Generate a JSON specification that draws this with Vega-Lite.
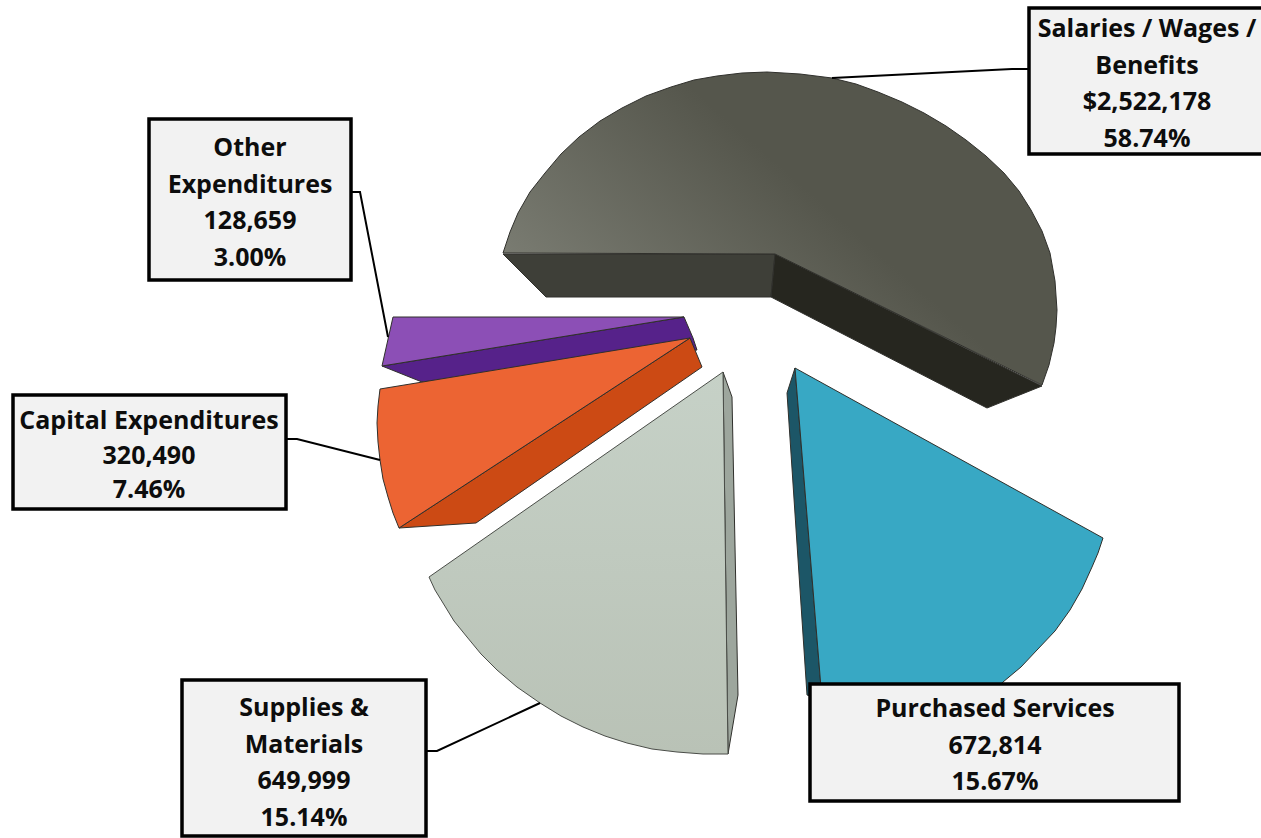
{
  "$schema": "https://vega.github.io/schema/vega-lite/v6.json",
  "width": 1261,
  "height": 838,
  "padding": 0,
  "autosize": {"type": "fit", "contains": "padding"},
  "background": "white",
  "config": {"view": {"stroke": null}},
  "datasets": {
    "faces": [
      {"part":"Other side","i":0,"x":382,"y":366},{"part":"Other side","i":1,"x":684,"y":317},{"part":"Other side","i":2,"x":693,"y":338},{"part":"Other side","i":3,"x":697,"y":350},{"part":"Other side","i":4,"x":422,"y":382},{"part":"Other side","i":5,"x":382,"y":366},
      {"part":"Other top","i":0,"x":393,"y":317},{"part":"Other top","i":1,"x":684,"y":317},{"part":"Other top","i":2,"x":382,"y":366},{"part":"Other top","i":3,"x":393,"y":317},
      {"part":"Capital side","i":0,"x":690,"y":338},{"part":"Capital side","i":1,"x":702,"y":367},{"part":"Capital side","i":2,"x":476,"y":523},{"part":"Capital side","i":3,"x":399,"y":528},{"part":"Capital side","i":4,"x":690,"y":338},
      {"part":"Capital top","i":0,"x":690,"y":338},{"part":"Capital top","i":1,"x":380,"y":389},{"part":"Capital top","i":2,"x":378,"y":406},{"part":"Capital top","i":3,"x":377,"y":423},{"part":"Capital top","i":4,"x":378,"y":442},{"part":"Capital top","i":5,"x":380,"y":460},{"part":"Capital top","i":6,"x":383,"y":479},{"part":"Capital top","i":7,"x":388,"y":497},{"part":"Capital top","i":8,"x":393,"y":513},{"part":"Capital top","i":9,"x":399,"y":528},{"part":"Capital top","i":10,"x":690,"y":338},
      {"part":"Salaries inner","i":0,"x":503,"y":254},{"part":"Salaries inner","i":1,"x":775,"y":254},{"part":"Salaries inner","i":2,"x":771,"y":297},{"part":"Salaries inner","i":3,"x":546,"y":297},{"part":"Salaries inner","i":4,"x":503,"y":254},
      {"part":"Salaries side","i":0,"x":775,"y":254},{"part":"Salaries side","i":1,"x":771,"y":297},{"part":"Salaries side","i":2,"x":987,"y":408},{"part":"Salaries side","i":3,"x":1042,"y":386},{"part":"Salaries side","i":4,"x":775,"y":254},
      {"part":"Salaries top","i":0,"x":503,"y":253},{"part":"Salaries top","i":1,"x":510,"y":232},{"part":"Salaries top","i":2,"x":518,"y":213},{"part":"Salaries top","i":3,"x":530,"y":192},{"part":"Salaries top","i":4,"x":545,"y":173},{"part":"Salaries top","i":5,"x":561,"y":154},{"part":"Salaries top","i":6,"x":579,"y":137},{"part":"Salaries top","i":7,"x":600,"y":121},{"part":"Salaries top","i":8,"x":622,"y":108},{"part":"Salaries top","i":9,"x":646,"y":96},{"part":"Salaries top","i":10,"x":671,"y":87},{"part":"Salaries top","i":11,"x":694,"y":80},{"part":"Salaries top","i":12,"x":717,"y":76},{"part":"Salaries top","i":13,"x":742,"y":73},{"part":"Salaries top","i":14,"x":767,"y":72},{"part":"Salaries top","i":15,"x":800,"y":74},{"part":"Salaries top","i":16,"x":832,"y":78},{"part":"Salaries top","i":17,"x":856,"y":84},{"part":"Salaries top","i":18,"x":878,"y":92},{"part":"Salaries top","i":19,"x":902,"y":102},{"part":"Salaries top","i":20,"x":924,"y":113},{"part":"Salaries top","i":21,"x":946,"y":126},{"part":"Salaries top","i":22,"x":966,"y":140},{"part":"Salaries top","i":23,"x":986,"y":156},{"part":"Salaries top","i":24,"x":1004,"y":173},{"part":"Salaries top","i":25,"x":1019,"y":191},{"part":"Salaries top","i":26,"x":1031,"y":210},{"part":"Salaries top","i":27,"x":1042,"y":231},{"part":"Salaries top","i":28,"x":1050,"y":253},{"part":"Salaries top","i":29,"x":1055,"y":281},{"part":"Salaries top","i":30,"x":1057,"y":310},{"part":"Salaries top","i":31,"x":1056,"y":327},{"part":"Salaries top","i":32,"x":1054,"y":343},{"part":"Salaries top","i":33,"x":1049,"y":365},{"part":"Salaries top","i":34,"x":1042,"y":385},{"part":"Salaries top","i":35,"x":775,"y":254},{"part":"Salaries top","i":36,"x":503,"y":253},
      {"part":"Purchased side","i":0,"x":795,"y":368},{"part":"Purchased side","i":1,"x":787,"y":393},{"part":"Purchased side","i":2,"x":807,"y":695},{"part":"Purchased side","i":3,"x":822,"y":700},{"part":"Purchased side","i":4,"x":795,"y":368},
      {"part":"Purchased top","i":0,"x":795,"y":368},{"part":"Purchased top","i":1,"x":1103,"y":538},{"part":"Purchased top","i":2,"x":1098,"y":553},{"part":"Purchased top","i":3,"x":1092,"y":567},{"part":"Purchased top","i":4,"x":1082,"y":589},{"part":"Purchased top","i":5,"x":1070,"y":610},{"part":"Purchased top","i":6,"x":1055,"y":631},{"part":"Purchased top","i":7,"x":1037,"y":650},{"part":"Purchased top","i":8,"x":1021,"y":667},{"part":"Purchased top","i":9,"x":1003,"y":682},{"part":"Purchased top","i":10,"x":985,"y":700},{"part":"Purchased top","i":11,"x":822,"y":700},{"part":"Purchased top","i":12,"x":795,"y":368},
      {"part":"Supplies side","i":0,"x":723,"y":372},{"part":"Supplies side","i":1,"x":732,"y":397},{"part":"Supplies side","i":2,"x":738,"y":695},{"part":"Supplies side","i":3,"x":728,"y":754},{"part":"Supplies side","i":4,"x":723,"y":372},
      {"part":"Supplies top","i":0,"x":723,"y":372},{"part":"Supplies top","i":1,"x":429,"y":577},{"part":"Supplies top","i":2,"x":435,"y":590},{"part":"Supplies top","i":3,"x":443,"y":603},{"part":"Supplies top","i":4,"x":454,"y":621},{"part":"Supplies top","i":5,"x":467,"y":637},{"part":"Supplies top","i":6,"x":481,"y":654},{"part":"Supplies top","i":7,"x":497,"y":670},{"part":"Supplies top","i":8,"x":517,"y":687},{"part":"Supplies top","i":9,"x":540,"y":703},{"part":"Supplies top","i":10,"x":561,"y":716},{"part":"Supplies top","i":11,"x":583,"y":727},{"part":"Supplies top","i":12,"x":605,"y":736},{"part":"Supplies top","i":13,"x":627,"y":743},{"part":"Supplies top","i":14,"x":652,"y":749},{"part":"Supplies top","i":15,"x":677,"y":752},{"part":"Supplies top","i":16,"x":703,"y":754},{"part":"Supplies top","i":17,"x":728,"y":754},{"part":"Supplies top","i":18,"x":723,"y":372}
    ],
    "leaders": [
      {"category":"Salaries","i":0,"x":832,"y":78},{"category":"Salaries","i":1,"x":1012,"y":69},{"category":"Salaries","i":2,"x":1028,"y":69},
      {"category":"Other","i":0,"x":351,"y":192},{"category":"Other","i":1,"x":360,"y":192},{"category":"Other","i":2,"x":388,"y":337},
      {"category":"Capital","i":0,"x":286,"y":439},{"category":"Capital","i":1,"x":297,"y":439},{"category":"Capital","i":2,"x":380,"y":460},
      {"category":"Supplies","i":0,"x":426,"y":751},{"category":"Supplies","i":1,"x":437,"y":751},{"category":"Supplies","i":2,"x":540,"y":703}
    ],
    "labels": [
      {"category":"Salaries / Wages / Benefits","amount":2522178,"share":58.74,"text":"Salaries / Wages /|Benefits|$2,522,178|58.74%","left":1029,"right":1280,"top":8,"bottom":154,"cx":1147,"cy":29},
      {"category":"Other Expenditures","amount":128659,"share":3.00,"text":"Other|Expenditures|128,659|3.00%","left":149,"right":351,"top":119,"bottom":280,"cx":250,"cy":148},
      {"category":"Capital Expenditures","amount":320490,"share":7.46,"text":"Capital Expenditures|320,490|7.46%","left":13,"right":286,"top":395,"bottom":509,"cx":149,"cy":421},
      {"category":"Supplies & Materials","amount":649999,"share":15.14,"text":"Supplies &|Materials|649,999|15.14%","left":182,"right":426,"top":680,"bottom":836,"cx":304,"cy":708},
      {"category":"Purchased Services","amount":672814,"share":15.67,"text":"Purchased Services|672,814|15.67%","left":810,"right":1179,"top":684,"bottom":801,"cx":995,"cy":709}
    ]
  },
  "encoding": {
    "x": {"field": "x", "type": "quantitative", "scale": {"domain": [0, 1261], "nice": false}, "axis": null},
    "y": {"field": "y", "type": "quantitative", "scale": {"domain": [838, 0], "nice": false}, "axis": null}
  },
  "layer": [
    {
      "data": {"name": "faces"},
      "transform": [{"filter": "datum.part !== 'Salaries top' && datum.part !== 'Supplies top'"}],
      "mark": {"type": "line", "stroke": "#30302c", "strokeWidth": 1, "strokeJoin": "round"},
      "encoding": {
        "order": {"field": "i", "type": "quantitative"},
        "detail": {"field": "part"},
        "fill": {
          "field": "part",
          "type": "nominal",
          "legend": null,
          "scale": {
            "domain": ["Other side", "Other top", "Capital side", "Capital top", "Salaries inner", "Salaries side", "Purchased side", "Purchased top", "Supplies side"],
            "range": ["#56228a", "#8c4fb6", "#cc4a14", "#ec6433", "#3e3f38", "#26261f", "#1c5667", "#38a8c4", "#9da69d"]
          }
        }
      }
    },
    {
      "data": {"name": "faces"},
      "transform": [{"filter": "datum.part === 'Salaries top'"}],
      "mark": {
        "type": "line",
        "stroke": "#30302c",
        "strokeWidth": 1,
        "strokeJoin": "round",
        "fill": {"gradient": "linear", "x1": 0, "y1": 0.62, "x2": 0.5, "y2": 0.3, "stops": [{"offset": 0, "color": "#7b7d73"}, {"offset": 1, "color": "#55564c"}]}
      },
      "encoding": {"order": {"field": "i", "type": "quantitative"}}
    },
    {
      "data": {"name": "faces"},
      "transform": [{"filter": "datum.part === 'Supplies top'"}],
      "mark": {
        "type": "line",
        "stroke": "#4a4d48",
        "strokeWidth": 1,
        "strokeJoin": "round",
        "fill": {"gradient": "linear", "x1": 0.5, "y1": 0, "x2": 0.5, "y2": 1, "stops": [{"offset": 0, "color": "#c6d1c7"}, {"offset": 1, "color": "#b9c2b6"}]}
      },
      "encoding": {"order": {"field": "i", "type": "quantitative"}}
    },
    {
      "data": {"name": "leaders"},
      "mark": {"type": "line", "color": "black", "strokeWidth": 2},
      "encoding": {
        "order": {"field": "i", "type": "quantitative"},
        "detail": {"field": "category"}
      }
    },
    {
      "data": {"name": "labels"},
      "mark": {"type": "rect", "fill": "#f2f2f2", "stroke": "black", "strokeWidth": 3.5, "clip": true},
      "encoding": {
        "x": {"field": "left", "type": "quantitative"},
        "x2": {"field": "right"},
        "y": {"field": "top", "type": "quantitative"},
        "y2": {"field": "bottom"}
      }
    },
    {
      "data": {"name": "labels"},
      "transform": [{"filter": "datum.category !== 'Capital Expenditures'"}],
      "mark": {"type": "text", "font": "Open Sans", "fontWeight": "bold", "fontSize": 25, "lineBreak": "|", "lineHeight": 36.5, "align": "center", "baseline": "middle", "color": "#0d0d0d"},
      "encoding": {
        "x": {"field": "cx", "type": "quantitative"},
        "y": {"field": "cy", "type": "quantitative"},
        "text": {"field": "text", "type": "nominal"}
      }
    },
    {
      "data": {"name": "labels"},
      "transform": [{"filter": "datum.category === 'Capital Expenditures'"}],
      "mark": {"type": "text", "font": "Open Sans", "fontWeight": "bold", "fontSize": 25, "lineBreak": "|", "lineHeight": 34.5, "align": "center", "baseline": "middle", "color": "#0d0d0d"},
      "encoding": {
        "x": {"field": "cx", "type": "quantitative"},
        "y": {"field": "cy", "type": "quantitative"},
        "text": {"field": "text", "type": "nominal"}
      }
    }
  ]
}
